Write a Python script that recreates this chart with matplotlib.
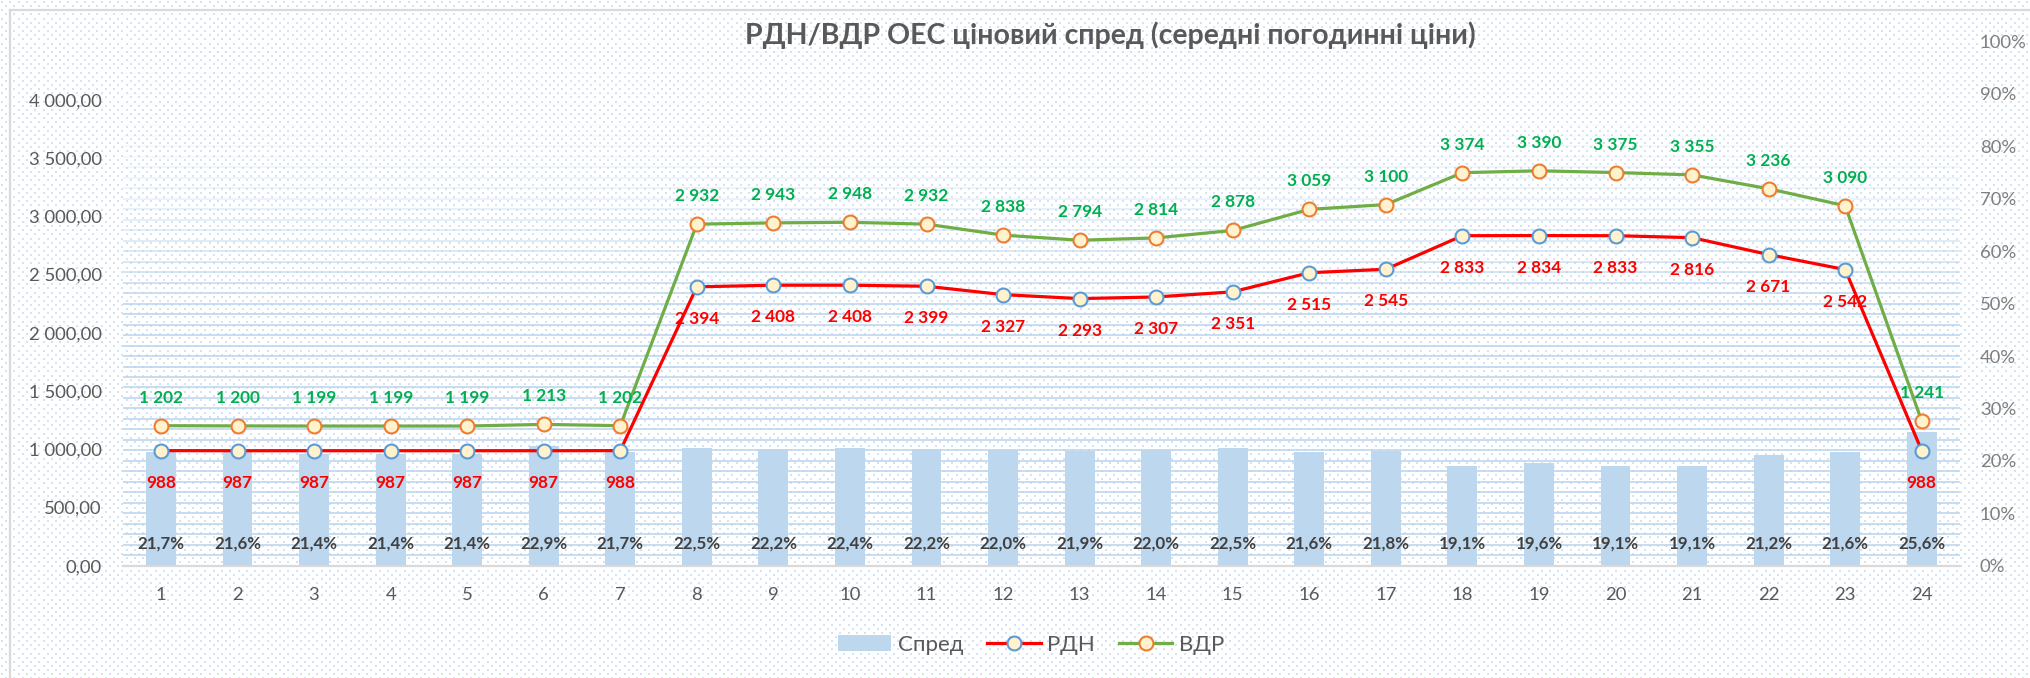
import numpy as np
import matplotlib.pyplot as plt
from matplotlib.patches import Patch
from matplotlib.lines import Line2D

# data
hours = list(range(1, 25))
vdr = [1202, 1200, 1199, 1199, 1199, 1213, 1202, 2932, 2943, 2948, 2932, 2838,
       2794, 2814, 2878, 3059, 3100, 3374, 3390, 3375, 3355, 3236, 3090, 1241]
rdn = [988, 987, 987, 987, 987, 987, 988, 2394, 2408, 2408, 2399, 2327,
       2293, 2307, 2351, 2515, 2545, 2833, 2834, 2833, 2816, 2671, 2542, 988]
spread = [21.7, 21.6, 21.4, 21.4, 21.4, 22.9, 21.7, 22.5, 22.2, 22.4, 22.2, 22.0,
          21.9, 22.0, 22.5, 21.6, 21.8, 19.1, 19.6, 19.1, 19.1, 21.2, 21.6, 25.6]
price_ticks = [0, 500, 1000, 1500, 2000, 2500, 3000, 3500, 4000]
pct_ticks = [0, 10, 20, 30, 40, 50, 60, 70, 80, 90, 100]

title = "РДН/ВДР ОЕС ціновий спред (середні погодинні ціни)"

plt.rcParams['font.family'] = ['Lato', 'Open Sans', 'DejaVu Sans']

W, H = 2031, 678
fig = plt.figure(figsize=(W / 100, H / 100), dpi=100)
fig.patch.set_facecolor('white')

# background: dotted pattern + chart border
bg = fig.add_axes([0, 0, 1, 1], zorder=-5)
bg.set_xlim(0, W)
bg.set_ylim(H, 0)
bg.axis('off')
step = 8.3
gx, gy = np.meshgrid(np.arange(2, W, step), np.arange(2, H, step))
bg.scatter(gx.ravel(), gy.ravel(), s=1.6, marker='s', color='#D3E2F4', linewidths=0)
bg.scatter(gx.ravel() + step / 2, gy.ravel() + step / 2, s=1.6, marker='s',
           color='#D3E2F4', linewidths=0)
bg.plot([10, W], [10, 10], color='#D9D9D9', lw=1.6)
bg.plot([10, 10], [10, H], color='#D9D9D9', lw=1.6)

left, right = 122.7 / W, 1960 / W
bottom, top = (H - 565.7) / H, (H - 41.5) / H
ax = fig.add_axes([left, bottom, right - left, top - bottom])
ax.patch.set_alpha(0)
ax2 = ax.twinx()

x = np.array(hours)

# percent axis (bars), shown on the right
ax.set_xlim(0.5, 24.5)
ax.set_ylim(0, 100)
for p in np.arange(2, 100, 2):
    a = 1.0 if p <= 50 else max(0.06, ((100 - p) / 50) ** 2)
    ax.axhline(p, color='#BDD7EE', lw=1.2, alpha=a, zorder=0.5)
ax.bar(x, spread, width=0.39, color='#BDD7EE', zorder=2)
for xi, p in zip(x, spread):
    ax.text(xi, 4.15, f"{p:.1f}%".replace('.', ','), ha='center', va='center',
            fontsize=12.2, fontweight='bold', color='#404040', zorder=3)
ax.yaxis.tick_right()
ax.set_yticks(pct_ticks)
ax.set_yticklabels([f"{t}%" for t in pct_ticks])
ax.tick_params(axis='y', length=0, pad=14.4, labelsize=13.3, labelcolor='#7F7F7F')
ax.set_xticks(hours)
ax.set_xticklabels([str(h) for h in hours])
ax.tick_params(axis='x', length=0, pad=15, labelsize=13.3, labelcolor='#595959')
for s in ['top', 'left', 'right']:
    ax.spines[s].set_visible(False)
ax.spines['bottom'].set_color('#D9D9D9')
ax.spines['bottom'].set_linewidth(1.6)

# price axis (lines), shown on the left
ax2.set_ylim(0, 4500)
ax2.plot(x, vdr, color='#70AD47', lw=2.3, marker='o', ms=10, mfc='#FFF2CC',
         mec='#ED7D31', mew=1.5, zorder=3)
ax2.plot(x, rdn, color='#FF0000', lw=2.3, marker='o', ms=10, mfc='#FFF2CC',
         mec='#5B9BD5', mew=1.5, zorder=4)
for xi, v in zip(x, vdr):
    ax2.annotate(f"{v:,}".replace(',', ' '), (xi, v), xytext=(0, 28),
                 textcoords='offset pixels', ha='center', va='center',
                 fontsize=12.4, fontweight='bold', color='#00B050')
for xi, v in zip(x, rdn):
    ax2.annotate(f"{v:,}".replace(',', ' '), (xi, v), xytext=(0, -32),
                 textcoords='offset pixels', ha='center', va='center',
                 fontsize=12.4, fontweight='bold', color='#FF0000')
ax2.yaxis.tick_left()
ax2.set_yticks(price_ticks)
ax2.set_yticklabels([f"{t:,}".replace(',', ' ') + ",00" for t in price_ticks])
ax2.tick_params(axis='y', length=0, pad=15, labelsize=13.3, labelcolor='#595959')
for s in ['top', 'left', 'right', 'bottom']:
    ax2.spines[s].set_visible(False)

fig.text(1110 / W, 1 - 35 / H, title, ha='center', va='center', fontsize=20.5,
         fontweight='bold', color='#595959')

handles = [
    Patch(facecolor='#BDD7EE', edgecolor='none'),
    Line2D([0], [0], color='#FF0000', lw=2.3, marker='o', ms=10, mfc='#FFF2CC',
           mec='#5B9BD5', mew=1.5),
    Line2D([0], [0], color='#70AD47', lw=2.3, marker='o', ms=10, mfc='#FFF2CC',
           mec='#ED7D31', mew=1.5),
]
fig.legend(handles, ['Спред', 'РДН', 'ВДР'], loc='center',
           bbox_to_anchor=(1031 / W, 1 - 645 / H), ncol=3, frameon=False,
           fontsize=16, labelcolor='#595959', handlelength=2.4, handleheight=0.75,
           handletextpad=0.28, columnspacing=1.1)

fig.savefig('out.png', dpi=100)
